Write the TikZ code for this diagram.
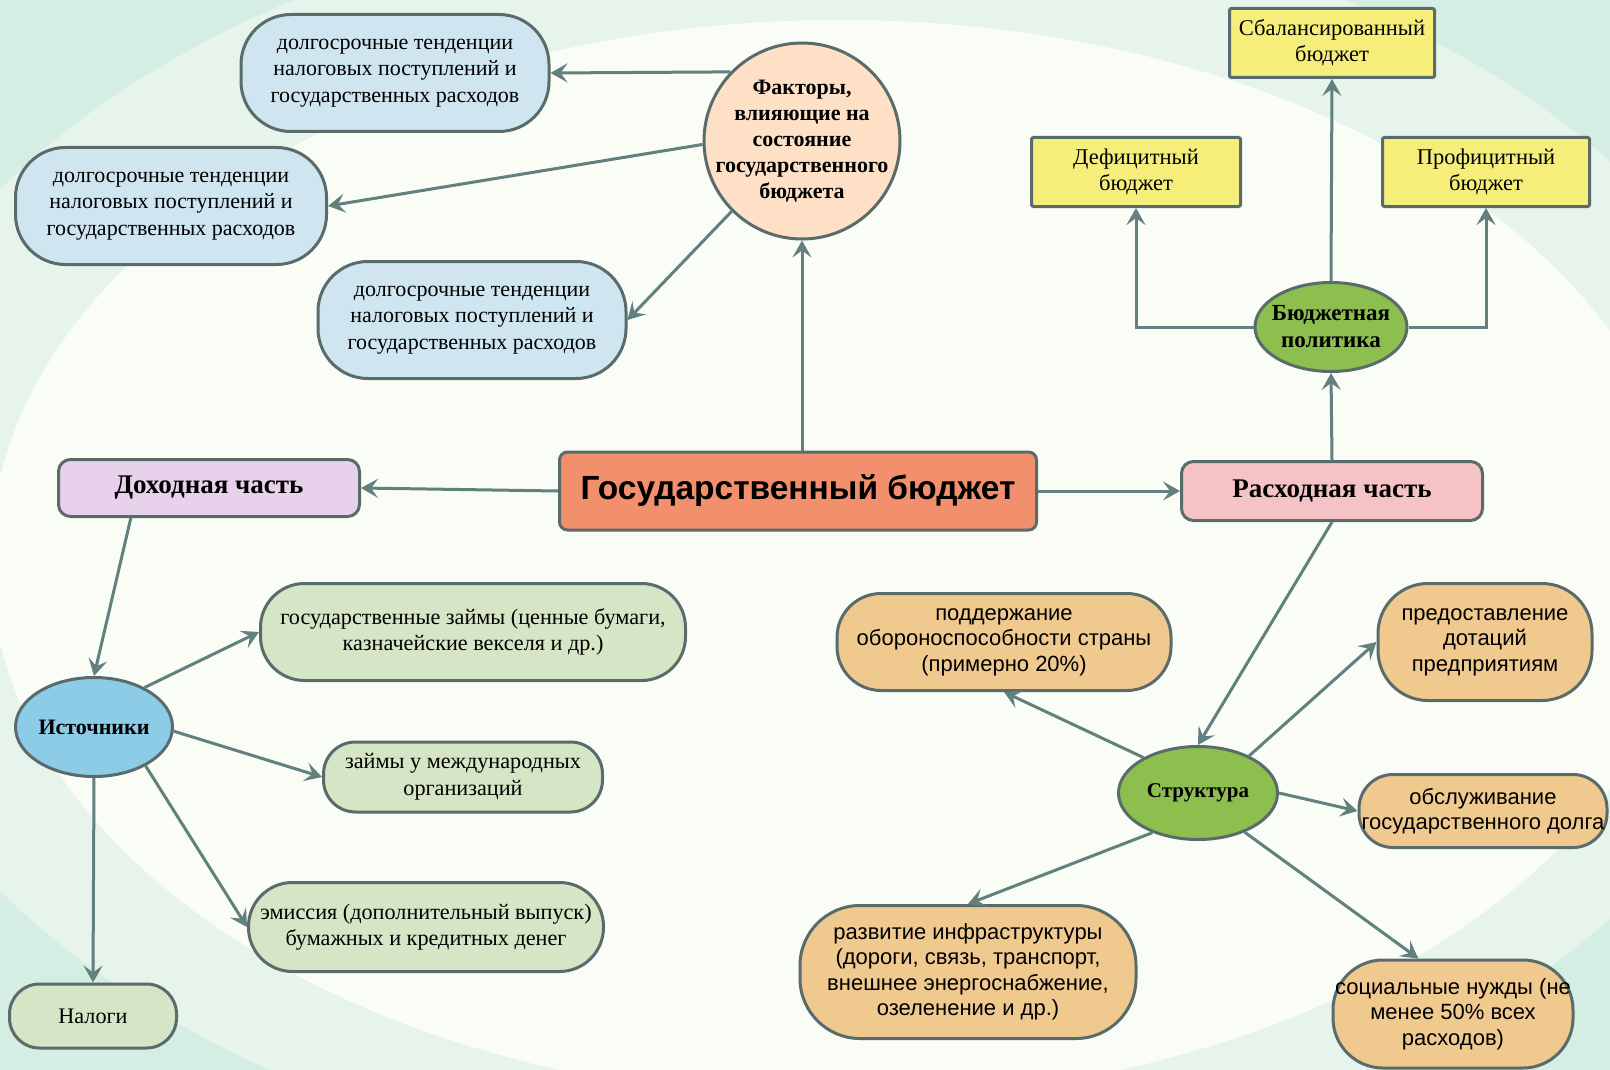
\documentclass[tikz,border=0pt]{standalone}
\usepackage{fontspec}
\setmainfont{Liberation Serif}
\setsansfont{Liberation Sans}
\usetikzlibrary{arrows.meta,shapes.geometric}

\definecolor{bgmint}{HTML}{D4EEE4}
\definecolor{bgmid}{HTML}{E6F4EC}
\definecolor{bglight}{HTML}{FAFCF6}
\definecolor{bordc}{HTML}{5A6B6B}
\definecolor{linec}{HTML}{61807E}
\definecolor{bluef}{HTML}{CFE6F1}
\definecolor{peachf}{HTML}{FDE0C6}
\definecolor{orangef}{HTML}{F28F6C}
\definecolor{incomef}{HTML}{E8D1EA}
\definecolor{expensef}{HTML}{F5C3C6}
\definecolor{hubf}{HTML}{8DBF4F}
\definecolor{srcf}{HTML}{8CCCE7}
\definecolor{yellowf}{HTML}{F6EE7A}
\definecolor{greenf}{HTML}{D5E5C6}
\definecolor{tanf}{HTML}{F0C98F}

\begin{document}
\begin{tikzpicture}[x=1pt, y=-1pt,
  box/.style={draw=bordc, line width=3pt, align=center, inner sep=0pt},
  pill/.style={box, rounded corners=44pt, font=\fontsize{22.2}{26.5}\selectfont},
  bluepill/.style={pill, fill=bluef, rounded corners=50pt, minimum width=308pt, minimum height=117pt, font=\fontsize{22}{26.5}\selectfont},
  greenpill/.style={pill, fill=greenf},
  tanpill/.style={pill, fill=tanf, font=\sffamily\fontsize{22}{25.5}\selectfont},
  part/.style={box, rounded corners=12pt, minimum width=301pt, minimum height=57pt, font=\bfseries\fontsize{27}{30}\selectfont},
  hub/.style={box, ellipse, fill=hubf, minimum width=152pt, minimum height=89pt, font=\bfseries\fontsize{21}{26}\selectfont},
  kind/.style={box, fill=yellowf, rounded corners=2pt, minimum width=207pt, minimum height=69pt, font=\fontsize{22.5}{26}\selectfont},
  arr/.style={draw=linec, line width=3pt, -{Stealth[length=17pt, width=19pt, inset=7pt]}}]

\useasboundingbox (0,0) rectangle (1610,1070);
\fill[bgmint] (0,0) rectangle (1610,1070);
\fill[bgmid] (820,540) ellipse (980 and 640);
\fill[bglight] (840,560) ellipse (850 and 540);

\node[bluepill] (1) at (395,73) {долгосрочные тенденции\\налоговых поступлений и\\государственных расходов};
\node[bluepill, minimum width=311pt] (2) at (171,206) {долгосрочные тенденции\\налоговых поступлений и\\государственных расходов};
\node[bluepill] (3) at (472,320) {долгосрочные тенденции\\налоговых поступлений и\\государственных расходов};
\node[box, circle, inner sep=-20pt, fill=peachf, minimum size=196pt, font=\bfseries\fontsize{22}{26}\selectfont] (4) at (802,141) {Факторы,\\влияющие на\\состояние\\государственного\\бюджета};

\node[box, fill=orangef, rounded corners=8pt, minimum width=477pt, minimum height=78pt, font=\sffamily\bfseries\fontsize{33.5}{38}\selectfont] (5) at (798,491) {Государственный бюджет};
\node[part, fill=incomef] (6) at (209,488) {Доходная часть};
\node[part, fill=expensef, minimum height=59pt] (7) at (1332,491) {Расходная часть};

\node[hub, inner sep=-12pt, font=\bfseries\fontsize{23}{27}\selectfont] (8) at (1331,327) {Бюджетная\\политика};
\node[kind, minimum width=205pt] (9) at (1332,43) {Сбалансированный\\бюджет};
\node[kind, minimum width=209pt] (10) at (1136,172) {Дефицитный\\бюджет};
\node[kind] (11) at (1486,172) {Профицитный\\бюджет};

\node[hub, fill=srcf, minimum width=157pt, minimum height=99pt, font=\bfseries\fontsize{22}{26}\selectfont] (12) at (94,727) {Источники};
\node[greenpill, minimum width=425pt, minimum height=97pt] (13) at (473,632) {государственные займы (ценные бумаги,\\казначейские векселя и др.)};
\node[greenpill, rounded corners=32pt, minimum width=279pt, minimum height=70pt] (14) at (463,777) {займы у международных\\организаций};
\node[greenpill, minimum width=355pt, minimum height=89pt] (15) at (426,927) {эмиссия (дополнительный выпуск)\\бумажных и кредитных денег};
\node[greenpill, rounded corners=30pt, minimum width=167pt, minimum height=64pt] (16) at (93,1016) {Налоги};

\node[hub, minimum width=159pt, minimum height=93pt] (17) at (1198,793) {Структура};
\node[tanpill, minimum width=334pt, minimum height=97pt] (18) at (1004,642) {поддержание\\обороноспособности страны\\(примерно 20\%)};
\node[tanpill, rounded corners=50pt, minimum width=214pt, minimum height=117pt] (19) at (1485,642) {предоставление\\дотаций\\предприятиям};
\node[tanpill, rounded corners=34pt, minimum width=248pt, minimum height=73pt] (20) at (1483,811) {обслуживание\\государственного долга};
\node[tanpill, rounded corners=60pt, minimum width=336pt, minimum height=133pt] (21) at (968,972) {развитие инфраструктуры\\(дороги, связь, транспорт,\\внешнее энергоснабжение,\\озеленение и др.)};
\node[tanpill, rounded corners=50pt, minimum width=240pt, minimum height=108pt] (22) at (1453,1014) {социальные нужды (не\\менее 50\% всех\\расходов)};

\draw[arr] (4.136) -- (1.east);
\draw[arr] (4.182) -- (2.east);
\draw[arr] (4.225) -- (3.east);
\draw[arr] (4.south |- 5.north) -- (4.south);
\draw[arr] (5.west) -- (6.east);
\draw[arr] (5.east) -- (7.west);

\draw[arr] (7.north) -- (8.south);
\draw[arr] (8.north) -- (9.south);
\draw[arr] (8.west) -| (10.south);
\draw[arr] (8.east) -| (11.south);

\draw[arr] (6.201) -- (12.north);
\draw[arr] (12.38) -- (13.west);
\draw[arr] (12.357) -- (14.west);
\draw[arr] (12.323) -- (15.west);
\draw[arr] (12.south) -- (16.north);

\draw[arr] (7.south) -- (17.north);
\draw[arr] (17.147) -- (18.south);
\draw[arr] (17.36) -- (19.west);
\draw[arr] (17.east) -- (20.west);
\draw[arr] (17.221) -- (21.north);
\draw[arr] (17.320) -- (22.122);

\end{tikzpicture}
\end{document}
